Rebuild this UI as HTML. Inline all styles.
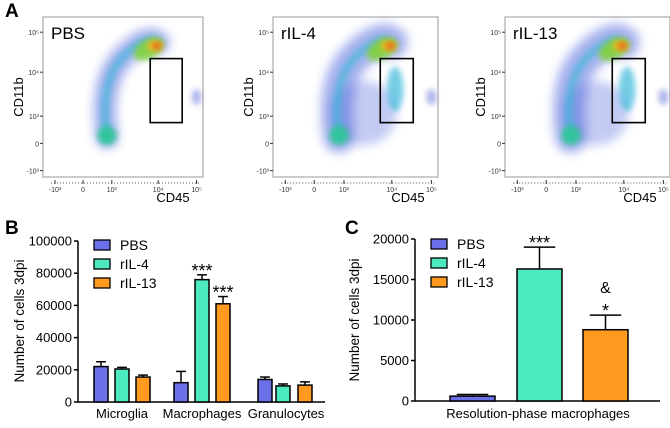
<!DOCTYPE html>
<html><head><meta charset="utf-8">
<style>
body{margin:0;background:#fff;width:670px;height:423px;overflow:hidden;font-family:"Liberation Sans",Arial,sans-serif}
svg text{font-family:"Liberation Sans",Arial,sans-serif}
</style></head>
<body>
<svg id="fig" width="670" height="423" viewBox="0 0 670 423" xmlns="http://www.w3.org/2000/svg">
<defs>
<filter id="bl" x="-50%" y="-50%" width="200%" height="200%"><feGaussianBlur stdDeviation="5"/></filter>
<filter id="bl2" x="-50%" y="-50%" width="200%" height="200%"><feGaussianBlur stdDeviation="3"/></filter>
</defs>
<text x="5" y="17" font-size="19" font-weight="bold">A</text>
<text x="5" y="234" font-size="19" font-weight="bold">B</text>
<text x="345" y="234" font-size="19" font-weight="bold">C</text>
<g id="flow"></g>
<g id="chartB"></g>
<g id="chartC"></g>
</svg>
<script>
const NS="http://www.w3.org/2000/svg";
function mk(tag,attrs,parent,txt){const e=document.createElementNS(NS,tag);for(const k in attrs)e.setAttribute(k,attrs[k]);if(txt!==undefined)e.textContent=txt;parent.appendChild(e);return e;}

// ---------- Panel A flow plots ----------
const flowNames=["PBS","rIL-4","rIL-13"];
const flowLefts=[43,273,505];
const flowWidths=[160,165,165];
const flowGate=[[0.67,0.26,0.87,0.66],[0.65,0.26,0.85,0.66],[0.65,0.26,0.85,0.66]];
const flowG=document.getElementById('flow');
flowNames.forEach((nm,i)=>{
  const L=flowLefts[i],W=flowWidths[i],T=17,H=160;
  const g=mk('g',{},flowG);
  
  
  const X=f=>L+f*W, Y=f=>T+f*H;
  const dens=mk('g',{},g);
  
  
  const sp=i===0?0.6:1;
  const band=`M${X(0.4)},${Y(0.75)} Q${X(0.35)},${Y(0.4)} ${X(0.5)},${Y(0.25)} T${X(0.72)},${Y(0.16)}`;
  mk('path',{d:band,stroke:'#3a52d8','stroke-width':22*sp+10,fill:'none',opacity:0.45,filter:'url(#bl)','stroke-linecap':'round'},dens);
  if(i>0){
    mk('ellipse',{cx:X(0.55),cy:Y(0.6),rx:W*0.2,ry:H*0.2,fill:'#3a52d8',opacity:0.3,filter:'url(#bl)'},dens);
    mk('ellipse',{cx:X(0.74),cy:Y(0.45),rx:W*0.05,ry:H*0.14,fill:'#2fb4d8',opacity:0.65,filter:'url(#bl2)'},dens);
  }
  mk('path',{d:band,stroke:'#30b8d8','stroke-width':8,fill:'none',opacity:0.6,filter:'url(#bl2)','stroke-linecap':'round'},dens);
  mk('ellipse',{cx:X(0.4),cy:Y(0.74),rx:W*0.06,ry:H*0.06,fill:'#28c890',opacity:0.85,filter:'url(#bl2)'},dens);
  mk('ellipse',{cx:X(0.66),cy:Y(0.2),rx:W*0.1,ry:H*0.06,fill:'#7ed23a',opacity:0.9,filter:'url(#bl2)',transform:`rotate(-30 ${X(0.66)} ${Y(0.2)})`},dens);
  mk('ellipse',{cx:X(0.7),cy:Y(0.18),rx:W*0.05,ry:H*0.035,fill:'#f0c020',opacity:0.95,filter:'url(#bl2)'},dens);
  mk('ellipse',{cx:X(0.71),cy:Y(0.18),rx:W*0.025,ry:H*0.02,fill:'#e83a10',opacity:0.9,filter:'url(#bl2)'},dens);
  mk('ellipse',{cx:X(0.96),cy:Y(0.5),rx:W*0.03,ry:H*0.05,fill:'#5a6ad8',opacity:0.5,filter:'url(#bl2)'},dens);
  const fr=mk('rect',{x:L,y:T,width:W,height:H,fill:'none',stroke:'#999','stroke-width':1},g);
  
  
  const gt=flowGate[i];
  const gr=mk('rect',{x:X(gt[0]),y:Y(gt[1]),width:(gt[2]-gt[0])*W,height:(gt[3]-gt[1])*H,fill:'none',stroke:'#000','stroke-width':1.6},g);
  
  
  const tl=mk('text',{x:L+8,y:T+22,'font-size':17},g,nm);
  
  
  const yt=[["10⁵",0.095],["10⁴",0.345],["10³",0.62],["0",0.79],["-10³",0.96]];
  yt.forEach(t=>{const e=mk('text',{x:L-4,y:Y(t[1])+3,'font-size':7,'text-anchor':'end',fill:'#333'},g,t[0]);
    
    mk('line',{x1:L-3,x2:L,y1:Y(t[1]),y2:Y(t[1]),stroke:'#333'},g);});
  const xt=[["-10³",0.075],["0",0.25],["10³",0.43],["10⁴",0.72],["10⁵",0.96]];
  xt.forEach(t=>{const e=mk('text',{x:X(t[1]),y:T+H+15,'font-size':7,'text-anchor':'middle',fill:'#333'},g,t[0]);
    
    mk('line',{x1:X(t[1]),x2:X(t[1]),y1:T+H+3,y2:T+H+7,stroke:'#333'},g);});
  mk('line',{x1:X(0.05),x2:X(0.98),y1:T+H+6,y2:T+H+6,stroke:'#555','stroke-dasharray':'1 2'},g);
  const xl=mk('text',{x:L+W-30,y:202,'font-size':13,'text-anchor':'middle'},g,'CD45');
  
  const yl=mk('text',{x:0,y:0,'font-size':13,'text-anchor':'middle',transform:`translate(${L-20},97) rotate(-90)`},g,'CD11b');
  
});

// ---------- Panel B ----------
const bCategories=["Microglia","Macrophages","Granulocytes"];
const bSeries=["PBS","rIL-4","rIL-13"];
const bPBS=[22000,12000,14000];
const bIL4=[20500,76000,10000];
const bIL13=[15500,61000,10500];
const bErrPBS=[3000,7000,1500];
const bErrIL4=[1000,3000,1200];
const bErrIL13=[1200,4500,2000];
const bStars=["","***",""];
const bStars13=["","***",""];
const bTicks=[0,20000,40000,60000,80000,100000];
const colors=["#6b70e8","#4deac0","#ff9a1e"];

function drawAxisY(g,x0,yScale,ticks,yMin,yMax){
  mk('line',{x1:x0,x2:x0,y1:yScale(yMax),y2:yScale(yMin),stroke:'#000','stroke-width':1.5},g);
  ticks.forEach(t=>{mk('line',{x1:x0-4,x2:x0,y1:yScale(t),y2:yScale(t),stroke:'#000','stroke-width':1.5},g);
    const e=mk('text',{x:x0-6,y:yScale(t)+4.5,'font-size':13,'text-anchor':'end'},g,String(t));
    });
}
function bar(g,x,w,v,err,col,yScale,name){
  const y0=yScale(0),y=yScale(v);
  const r=mk('rect',{x:x,y:y,width:w,height:y0-y,fill:col,stroke:'#000','stroke-width':1.5},g);
  
  const ye=yScale(v+err);
  mk('line',{x1:x+w/2,x2:x+w/2,y1:y,y2:ye,stroke:'#000','stroke-width':1.5},g);
  mk('line',{x1:x+w/2-w*0.35,x2:x+w/2+w*0.35,y1:ye,y2:ye,stroke:'#000','stroke-width':1.5},g);
  return ye;
}
function legend(g,x,y,dy){
  bSeries.forEach((s,i)=>{
    const r=mk('rect',{x:x,y:y+i*dy-5,width:16,height:10,fill:colors[i],stroke:'#000','stroke-width':1.3},g);
    
    const t=mk('text',{x:x+26,y:y+i*dy+5,'font-size':14},g,s);
    
  });
}
(function(){
  const g=document.getElementById('chartB');
  
  const y0=402,y1=241,x0=78;
  const yS=v=>y0-(v/100000)*(y0-y1);
  drawAxisY(g,x0,yS,bTicks,0,100000);
  mk('line',{x1:x0,x2:325,y1:y0,y2:y0,stroke:'#000','stroke-width':1.5},g);
  const groupX=[94,174,258], bw=14, gap=[0,21,42];
  const vals=[bPBS,bIL4,bIL13],errs=[bErrPBS,bErrIL4,bErrIL13];
  bCategories.forEach((c,ci)=>{
    for(let s=0;s<3;s++){
      const ye=bar(g,groupX[ci]+gap[s]+(ci===2?[0,-3,-2][s]:0),bw,vals[s][ci],errs[s][ci],colors[s],yS,'bar-'+c.toLowerCase()+'-'+bSeries[s].toLowerCase());
      const st=s===1?bStars[ci]:(s===2?bStars13[ci]:"");
      if(st){const t=mk('text',{x:groupX[ci]+gap[s]+bw/2,y:ye+2,'font-size':18,'text-anchor':'middle'},g,st);
        }
    }
    const cx=groupX[ci]+28;
    const t=mk('text',{x:cx,y:418,'font-size':13,'text-anchor':'middle'},g,c);
    
  });
  const yt=mk('text',{x:0,y:0,'font-size':13.5,'text-anchor':'middle',transform:'translate(24,321) rotate(-90)'},g,'Number of cells 3dpi');
  
  legend(g,94,245,19);
})();

// ---------- Panel C ----------
const cCategory=["Resolution-phase macrophages"];
const cValues=[600,16300,8800];
const cErrors=[200,2700,1800];
const cMarks=["","***","&\n*"];
const cTicks=[0,5000,10000,15000,20000];
(function(){
  const g=document.getElementById('chartC');
  
  const y0=401,y1=239,x0=415;
  const yS=v=>y0-(v/20000)*(y0-y1);
  drawAxisY(g,x0,yS,cTicks,0,20000);
  mk('line',{x1:x0,x2:660,y1:y0,y2:y0,stroke:'#000','stroke-width':1.5},g);
  const bx=[450,517,583],bw=45;
  cValues.forEach((v,i)=>{
    const ye=bar(g,bx[i],bw,v,cErrors[i],colors[i],yS,'bar-'+bSeries[i].toLowerCase());
    const lines=cMarks[i]?cMarks[i].split("\n"):[];
    lines.reverse().forEach((m,k)=>{
      const t=mk('text',{x:bx[i]+bw/2,y:ye+(m==="&"?-4:2)-k*18,'font-size':m==="&"?16:18,'text-anchor':'middle'},g,m);
      
    });
  });
  const t=mk('text',{x:538,y:418,'font-size':13,'text-anchor':'middle'},g,cCategory[0]);
  
  const yt=mk('text',{x:0,y:0,'font-size':13.5,'text-anchor':'middle',transform:'translate(359,320) rotate(-90)'},g,'Number of cells 3dpi');
  
  legend(g,431,244,19);
})();
</script>
</body></html>
